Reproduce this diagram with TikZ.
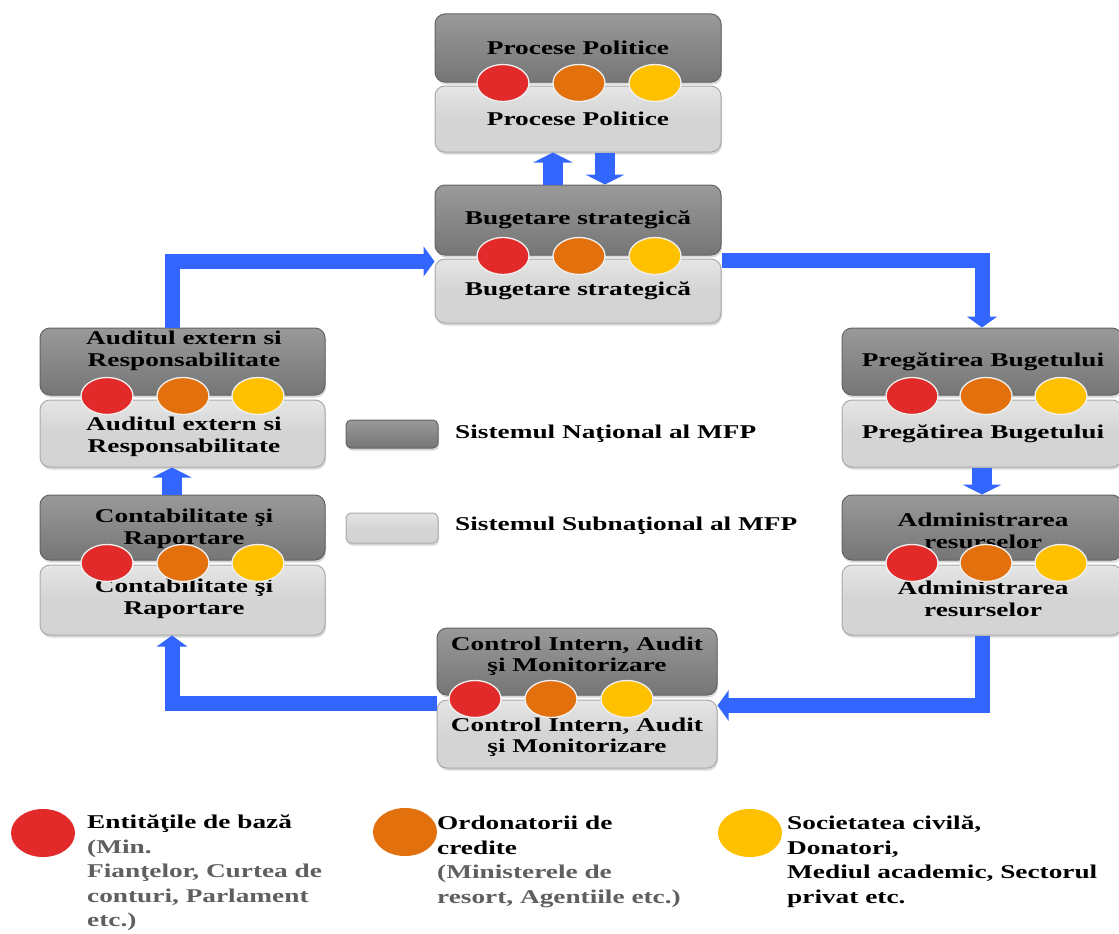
\documentclass[tikz,border=0pt]{standalone}
\usepackage{fontspec}
\setmainfont{Liberation Serif}[FakeStretch=1.4]
\usetikzlibrary{arrows.meta,shadows,shapes.geometric}
\definecolor{arrowblue}{RGB}{51,102,255}
\definecolor{cred}{RGB}{227,42,42}
\definecolor{corange}{RGB}{226,112,12}
\definecolor{cyellow}{RGB}{255,192,0}
\definecolor{darkbox}{RGB}{128,128,128}
\definecolor{darkedge}{RGB}{100,100,100}
\definecolor{lightbox}{RGB}{212,212,212}
\definecolor{lightedge}{RGB}{170,170,170}
\definecolor{legendgray}{RGB}{95,95,95}
\tikzset{
  dbox/.style={draw=darkedge, line width=1pt, top color=darkbox!80!white, bottom color=darkbox!92!black,
    rounded corners=10pt, inner sep=0pt,
    drop shadow={shadow xshift=1pt, shadow yshift=-2.5pt, opacity=0.3}},
  lbox/.style={draw=lightedge, line width=1pt, top color=lightbox!60!white, bottom color=lightbox,
    middle color=lightbox, rounded corners=10pt, inner sep=0pt,
    drop shadow={shadow xshift=1pt, shadow yshift=-2.5pt, opacity=0.3}},
  lbl/.style={font=\fontsize{19.5}{21.5}\selectfont\bfseries, align=center, inner sep=0pt, text=black},
  dot/.style={ellipse, minimum width=52pt, minimum height=37pt, draw=white!88!gray, line width=1.3pt, inner sep=0pt},
  legdot/.style={ellipse, minimum width=64pt, minimum height=48pt, inner sep=0pt},
  legtxt/.style={font=\fontsize{19.5}{24.5}\selectfont\bfseries, align=left, inner sep=0pt, anchor=north west},
  loop/.style={draw=arrowblue, line width=15pt, -{Triangle[width=30pt,length=11pt]}},
  hop/.style={draw=arrowblue, line width=20pt, -{Triangle[width=39pt,length=10pt]}}
}
\begin{document}
\begin{tikzpicture}[x=1pt,y=-1pt]
\clip (0,0) rectangle (1119,934);
\fill[white] (0,0) rectangle (1119,934);

% ---------- boxes ----------
\node[dbox, minimum width=286, minimum height=68] (proD) at (578,48) {};
\node[lbox, minimum width=286, minimum height=66] (proL) at (578,119) {};
\node[dbox, minimum width=286, minimum height=70] (bugD) at (578,220) {};
\node[lbox, minimum width=286, minimum height=64] (bugL) at (578,291) {};
\node[dbox, minimum width=285, minimum height=67] (audD) at (182.5,361.5) {};
\node[lbox, minimum width=285, minimum height=67] (audL) at (182.5,433.5) {};
\node[dbox, minimum width=285, minimum height=65] (conD) at (182.5,527.5) {};
\node[lbox, minimum width=285, minimum height=70] (conL) at (182.5,600) {};
\node[dbox, minimum width=280, minimum height=67] (preD) at (982,361.5) {};
\node[lbox, minimum width=280, minimum height=67] (preL) at (982,433.5) {};
\node[dbox, minimum width=280, minimum height=65] (admD) at (982,527.5) {};
\node[lbox, minimum width=280, minimum height=70] (admL) at (982,600) {};
\node[dbox, minimum width=280, minimum height=67] (ctlD) at (577,661.5) {};
\node[lbox, minimum width=280, minimum height=68] (ctlL) at (577,734) {};

% ---------- labels ----------
\node[lbl] (proDt) at (578,48) {Procese Politice};
\node[lbl] (proLt) at (578,119) {Procese Politice};
\node[lbl] (bugDt) at (578,220) {Bugetare strategică};
\node[lbl] (bugLt) at (578,291) {Bugetare strategică};
\node[lbl] (audDt) at (184,351) {Auditul extern si\\Responsabilitate};
\node[lbl] (audLt) at (184,437) {Auditul extern si\\Responsabilitate};
\node[lbl] (conDt) at (184,529) {Contabilitate şi\\Raportare};
\node[lbl] (conLt) at (184,599) {Contabilitate şi\\Raportare};
\node[lbl] (preDt) at (983,362) {Pregătirea Bugetului};
\node[lbl] (preLt) at (983,434) {Pregătirea Bugetului};
\node[lbl] (admDt) at (983,531) {Administrarea\\resurselor};
\node[lbl] (admLt) at (983,599) {Administrarea\\resurselor};
\node[lbl] (ctlDt) at (577,656) {Control Intern, Audit\\şi Monitorizare};
\node[lbl] (ctlLt) at (577,737) {Control Intern, Audit\\şi Monitorizare};

% ---------- ellipses ----------
\node[dot, fill=cred]    (proR) at (503,83) {};
\node[dot, fill=corange] (proO) at (579,83) {};
\node[dot, fill=cyellow] (proY) at (655,83) {};
\node[dot, fill=cred]    (bugR) at (503,256) {};
\node[dot, fill=corange] (bugO) at (579,256) {};
\node[dot, fill=cyellow] (bugY) at (655,256) {};
\node[dot, fill=cred]    (audR) at (107,396) {};
\node[dot, fill=corange] (audO) at (183,396) {};
\node[dot, fill=cyellow] (audY) at (258,396) {};
\node[dot, fill=cred]    (conR) at (107,563) {};
\node[dot, fill=corange] (conO) at (183,563) {};
\node[dot, fill=cyellow] (conY) at (258,563) {};
\node[dot, fill=cred]    (preR) at (912,396) {};
\node[dot, fill=corange] (preO) at (986,396) {};
\node[dot, fill=cyellow] (preY) at (1061,396) {};
\node[dot, fill=cred]    (admR) at (912,563) {};
\node[dot, fill=corange] (admO) at (986,563) {};
\node[dot, fill=cyellow] (admY) at (1061,563) {};
\node[dot, fill=cred]    (ctlR) at (475,699) {};
\node[dot, fill=corange] (ctlO) at (551,699) {};
\node[dot, fill=cyellow] (ctlY) at (627,699) {};

% ---------- arrows ----------
\draw[hop] ([xshift=-25pt]bugD.north) -- ([xshift=-25pt]proL.south);
\draw[hop] ([xshift=27pt]proL.south) -- ([xshift=27pt]bugD.north);
\draw[loop] ([xshift=-10.5pt]audD.north) |- ([yshift=-3pt]bugL.north west);
\draw[loop] ([yshift=-2pt]bugL.north east) -| (preD.north);
\draw[hop] (preL.south) -- (admD.north);
\draw[loop] (admL.south) |- ([yshift=-6pt]ctlL.north east);
\draw[loop] ([yshift=-4pt]ctlL.north west) -| ([xshift=-10.5pt]conL.south);
\draw[hop] ([xshift=-10.5pt]conD.north) -- ([xshift=-10.5pt]audL.south);

% ---------- middle legend ----------
\node[dbox, rounded corners=5pt, minimum width=92, minimum height=28] (legD) at (392,434) {};
\node[lbox, rounded corners=5pt, minimum width=92, minimum height=30] (legL) at (392,528) {};
\node[lbl, anchor=west] (legDt) at (455,434) {Sistemul Naţional al MFP};
\node[lbl, anchor=west] (legLt) at (455,526) {Sistemul Subnaţional al MFP};

% ---------- bottom legend ----------
\node[legdot, fill=cred]    (lgR) at (43,833) {};
\node[legdot, fill=corange] (lgO) at (405,832) {};
\node[legdot, fill=cyellow] (lgY) at (750,833) {};
\node[legtxt] (lgRt) at (87,815) {Entităţile de bază\\\textcolor{legendgray}{(Min.}\\\textcolor{legendgray}{Fianţelor, Curtea de}\\\textcolor{legendgray}{conturi, Parlament}\\\textcolor{legendgray}{etc.)}};
\node[legtxt] (lgOt) at (437,816) {Ordonatorii de\\credite\\\textcolor{legendgray}{(Ministerele de}\\\textcolor{legendgray}{resort, Agentiile etc.)}};
\node[legtxt] (lgYt) at (787,816) {Societatea civilă,\\Donatori,\\Mediul academic, Sectorul\\privat etc.};
\end{tikzpicture}
\end{document}
